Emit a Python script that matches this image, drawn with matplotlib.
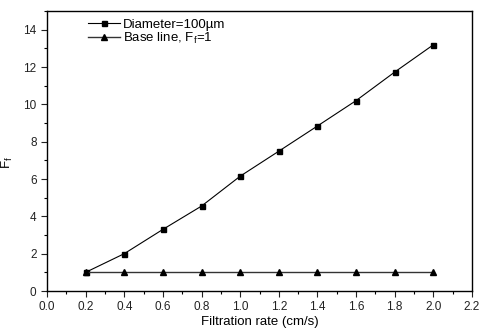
import matplotlib
matplotlib.use("Agg")
import matplotlib.pyplot as plt
from matplotlib.ticker import MultipleLocator

rate = [0.2, 0.4, 0.6, 0.8, 1.0, 1.2, 1.4, 1.6, 1.8, 2.0]
ff_100um = [1.0, 2.0, 3.3, 4.55, 6.15, 7.49, 8.84, 10.2, 11.73, 13.19]
ff_base = [1, 1, 1, 1, 1, 1, 1, 1, 1, 1]

plt.rcParams['font.family'] = ['Liberation Sans', 'DejaVu Sans']

fig = plt.figure(figsize=(4.93, 3.36), dpi=100)
ax = fig.add_axes([47 / 493, 45 / 336, 425 / 493, 280 / 336])

ax.plot(rate, ff_100um, color="black", lw=0.8, marker="s", ms=3.6,
        label="Diameter=100\u00b5m")
ax.plot(rate, ff_base, color="#333333", lw=1.0, marker="^", ms=4.2,
        markerfacecolor="black", markeredgecolor="black",
        label="Base line, F$_\\mathregular{f}$=1")

ax.set_xlim(0, 2.2)
ax.set_ylim(0, 15)
ax.xaxis.set_major_locator(MultipleLocator(0.2))
ax.xaxis.set_minor_locator(MultipleLocator(0.1))
ax.yaxis.set_major_locator(MultipleLocator(2))
ax.yaxis.set_minor_locator(MultipleLocator(1))
ax.set_xticklabels([f"{v:.1f}" for v in ax.get_xticks()])
ax.tick_params(which="major", direction="out", length=4, width=0.8,
               labelsize=8.5, colors="#222222")
ax.tick_params(which="minor", direction="out", length=2, width=0.8)
ax.tick_params(top=False, right=False)
for s in ax.spines.values():
    s.set_linewidth(1.0)

ax.set_xlabel("Filtration rate (cm/s)", fontsize=9.5, labelpad=2)
ax.set_ylabel("F$_\\mathregular{f}$", fontsize=9.5)
ax.yaxis.set_label_coords(-0.075, 0.46)

ax.legend(loc="upper left", bbox_to_anchor=(0.075, 1.005), frameon=False,
          fontsize=9.5, handlelength=2.4, handletextpad=0.25,
          labelspacing=0.0, borderaxespad=0.3)

fig.savefig("out.png", dpi=100)
